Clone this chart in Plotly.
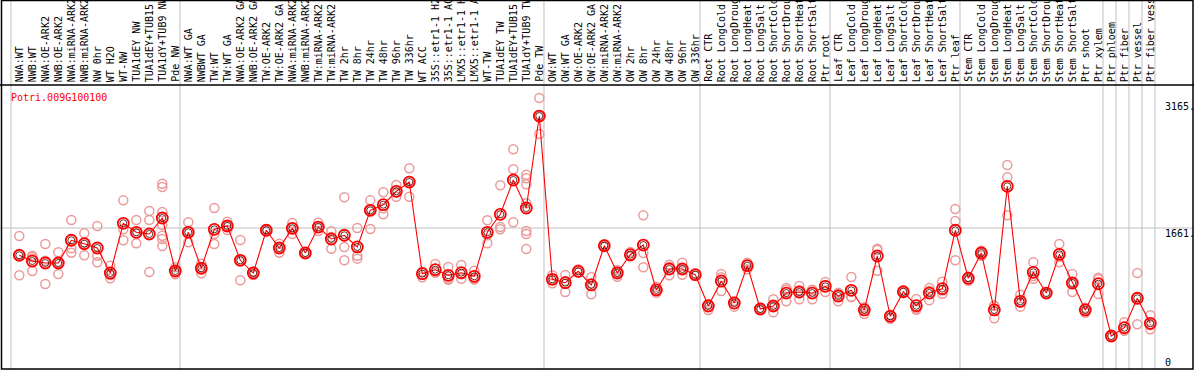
import plotly.graph_objects as go

gene = "Potri.009G100100"

labels = [
    "NWA:WT", "NWB:WT", "NWA:OE-ARK2", "NWB:OE-ARK2", "NWA:miRNA-ARK2", "NWB:miRNA-ARK2",
    "NW 0hr", "WT H2O", "WT-NW", "TUA1dEY NW", "TUA1dEY+TUB15", "TUA1dY+TUB9 NW", "Pde NW",
    "NWA:WT GA", "NWBWT GA", "TW:WT", "TW:WT GA", "NWA:OE-ARK2 GA", "NWB:OE-ARK2 GA",
    "TW:OE-ARK2", "TW:OE-ARK2 GA", "NWA:miRNA-ARK2", "NWB:miRNA-ARK2", "TW:miRNA-ARK2",
    "TW:miRNA-ARK2", "TW 2hr", "TW 8hr", "TW 24hr", "TW 48hr", "TW 96hr", "TW 336hr",
    "WT ACC", "35S::etr1-1 H2", "35S::etr1-1 AC", "LMX5::etr1-1 H", "LMX5::etr1-1 A",
    "WT-TW", "TUA1dEY TW", "TUA1dEY+TUB15", "TUA1dY+TUB9 TW", "Pde TW",
    "OW:WT", "OW:WT GA", "OW:OE-ARK2", "OW:OE-ARK2 GA", "OW:miRNA-ARK2", "OW:miRNA-ARK2",
    "OW 2hr", "OW 8hr", "OW 24hr", "OW 48hr", "OW 96hr", "OW 336hr",
    "Root CTR", "Root LongCold", "Root LongDroug", "Root LongHeat", "Root LongSalt",
    "Root ShortCold", "Root ShortDrou", "Root ShortHeat", "Root ShortSalt", "Ptr root",
    "Leaf CTR", "Leaf LongCold", "Leaf LongDroug", "Leaf LongHeat", "Leaf LongSalt",
    "Leaf ShortCold", "Leaf ShortDrou", "Leaf ShortHeat", "Leaf ShortSalt", "Ptr leaf",
    "Stem CTR", "Stem LongCold", "Stem LongDroug", "Stem LongHeat", "Stem LongSalt",
    "Stem ShortCold", "Stem ShortDrou", "Stem ShortHeat", "Stem ShortSalt", "Ptr shoot",
    "Ptr xylem", "Ptr phloem", "Ptr fiber", "Ptr vessel", "Ptr fiber vess",
]

means = [
    1323, 1252, 1227, 1227, 1509, 1466, 1413, 1103, 1719, 1608, 1587, 1785, 1128,
    1608, 1162, 1645, 1686, 1261, 1103, 1633, 1413, 1657, 1351, 1673, 1525, 1571,
    1426, 1880, 1950, 2116, 2231, 1095, 1144, 1075, 1107, 1062, 1608, 1831, 2256,
    1909, 3049,
    1025, 983, 1124, 955, 1442, 1103, 1330, 1450, 893, 1153, 1153, 1082,
    694, 1004, 731, 1194, 657, 694, 855, 868, 855, 938,
    818, 889, 645, 1314, 566, 871, 698, 855, 909, 1633,
    1038, 1351, 645, 2178, 752, 1112, 855, 1335, 979, 645, 971,
    322, 425, 790, 480,
]

replicates = [
    [1562, 1075, 1332], [1318, 1300, 1128], [1463, 967, 1256], [1360, 1091, 1230],
    [1760, 1409, 1355], [1595, 1323, 1480], [1686, 1318, 1236], [1194, 1038, 1077],
    [2004, 1509, 1645], [1760, 1471, 1593], [1872, 1760, 1116],
    [2210, 2169, 1859, 1698, 1566, 1525, 1438], [1174, 1087, 1123],
    [1732, 1484, 1608], [1219, 1100, 1167], [1909, 1587, 1463], [1739, 1636, 1683],
    [1512, 1013, 1258], [1078, 1110, 1121], [1645, 1625, 1630], [1466, 1355, 1418],
    [1723, 1587, 1661], [1351, 1345, 1357], [1727, 1624, 1668], [1620, 1404, 1551],
    [2042, 1426, 1261], [1661, 1318, 1281], [2004, 1649, 1880], [2104, 1905, 1831],
    [2194, 2049, 2105], [2401, 2049, 2243], [1119, 1050, 1116], [1215, 1107, 1110],
    [1178, 1033, 1020], [1202, 1033, 1086], [1132, 1033, 1021], [1757, 1471, 1571],
    [2190, 1673, 1645], [2637, 2389, 1732],
    [2322, 2277, 2203, 1967, 1624, 1587, 1401], [3273, 2826, 3048],
    [1075, 976, 1024], [1078, 868, 1003], [1149, 1110, 1113], [1050, 839, 976],
    [1442, 1460, 1425], [1057, 1140, 1112], [1364, 1320, 1306], [1818, 1351, 1174],
    [933, 859, 887], [1206, 1075, 1178], [1231, 1082, 1146], [1082, 1090, 1075],
    [719, 645, 718], [1091, 1050, 880], [686, 752, 755], [1231, 1149, 1202],
    [645, 660, 666], [777, 616, 689], [917, 752, 896], [942, 777, 885],
    [893, 777, 895], [992, 868, 954],
    [859, 752, 843], [1054, 809, 804], [595, 660, 680], [1404, 1132, 1388],
    [537, 575, 586], [871, 860, 882], [781, 648, 665], [917, 765, 883],
    [995, 847, 885], [1897, 1748, 1261],
    [1008, 1050, 1056], [1380, 1318, 1355], [694, 542, 699], [2442, 2290, 1818],
    [834, 686, 736], [1236, 1033, 1067], [855, 850, 860], [1463, 1236, 1306],
    [1091, 868, 978], [611, 650, 674], [1045, 843, 1025],
    [322, 318, 326], [492, 388, 395], [1103, 467, 800], [579, 405, 456],
]

group_starts = [0, 13, 41, 53, 63, 73, 84, 85, 86, 87, 88]
axis_values = [3165, 1661, 0]
axis_texts = ["3165.", "1661.", "0"]

W, H = 1194, 370
X0_PX, STEP_PX = 19.3, 13.0          # pixel position of first column, column spacing
Y0_PX, PX_PER_UNIT = 362.0, 0.08067  # pixel row of value 0, pixels per unit
LABEL_BASE_PX = 84                   # bottom of rotated labels
HEADER_PX = 85                       # header separator line

xr0 = -X0_PX / STEP_PX
xr1 = xr0 + W / STEP_PX
yr0 = -(H - Y0_PX) / PX_PER_UNIT
yr1 = Y0_PX / PX_PER_UNIT

xs = list(range(len(labels)))
rx, ry = [], []
for i, reps in enumerate(replicates):
    for v in reps:
        rx.append(i)
        ry.append(v)

fig = go.Figure()
fig.add_trace(go.Scatter(
    x=rx, y=ry, mode="markers", hoverinfo="skip",
    marker=dict(symbol="circle-open", size=9, color="#eb9a9a", line=dict(width=1.5, color="#eb9a9a")),
))
fig.add_trace(go.Scatter(
    x=xs, y=means, mode="lines", hoverinfo="skip",
    line=dict(color="#ff0000", width=1.1),
))
fig.add_trace(go.Scatter(
    x=xs, y=means, mode="markers", hoverinfo="skip",
    marker=dict(symbol="circle-open", size=11, color="#ff0000", line=dict(width=1.8, color="#ff0000")),
))
fig.add_trace(go.Scatter(
    x=xs, y=means, mode="markers", hoverinfo="skip",
    marker=dict(symbol="circle-open", size=7, color="#400000", line=dict(width=0.8, color="#400000")),
))

shapes = []
# gray vertical separators
for b in group_starts:
    xv = b - 0.64
    shapes.append(dict(type="line", xref="x", yref="paper", x0=xv, x1=xv, y0=0, y1=1,
                       line=dict(color="#c0c0c0", width=1), layer="below"))
# horizontal gray at middle value
shapes.append(dict(type="line", xref="paper", yref="y", x0=0, x1=1, y0=axis_values[1], y1=axis_values[1],
                   line=dict(color="#c0c0c0", width=1), layer="below"))
# black header line
yh = 1 - HEADER_PX / H
shapes.append(dict(type="line", xref="paper", yref="paper", x0=0, x1=1, y0=yh, y1=yh,
                   line=dict(color="#000000", width=1.5)))
# frame
shapes.append(dict(type="rect", xref="paper", yref="paper", x0=1.5 / W, x1=1 - 1 / W, y0=1 / H, y1=1 - 0.5 / H,
                   line=dict(color="#000000", width=1.5)))

annotations = []
for i, lab in enumerate(labels):
    annotations.append(dict(
        x=i, xref="x", y=1 - LABEL_BASE_PX / H, yref="paper", text=lab, showarrow=False,
        textangle=-90, xanchor="center", yanchor="bottom",
        font=dict(family="DejaVu Sans Mono", size=10, color="#000000"),
    ))
annotations.append(dict(
    x=9 / W, xref="paper", y=1 - 97 / H, yref="paper", text=gene, showarrow=False,
    xanchor="left", yanchor="middle", font=dict(family="DejaVu Sans Mono", size=10, color="#ff0000"),
))
label_rows = [107, 233, 362]
for v, t, row in zip(axis_values, axis_texts, label_rows):
    annotations.append(dict(
        x=1163 / W, xref="paper", y=1 - row / H, yref="paper", text=t, showarrow=False,
        xanchor="left", yanchor="middle", font=dict(family="DejaVu Sans Mono", size=10, color="#000000"),
    ))

fig.update_layout(
    width=W, height=H, margin=dict(l=0, r=0, t=0, b=0),
    paper_bgcolor="white", plot_bgcolor="white", showlegend=False,
    xaxis=dict(range=[xr0, xr1], visible=False, fixedrange=True),
    yaxis=dict(range=[yr0, yr1], visible=False, fixedrange=True),
    shapes=shapes, annotations=annotations,
)

fig.write_html("out.html", config={"displayModeBar": False},
               post_script="document.body.style.margin='0';")
